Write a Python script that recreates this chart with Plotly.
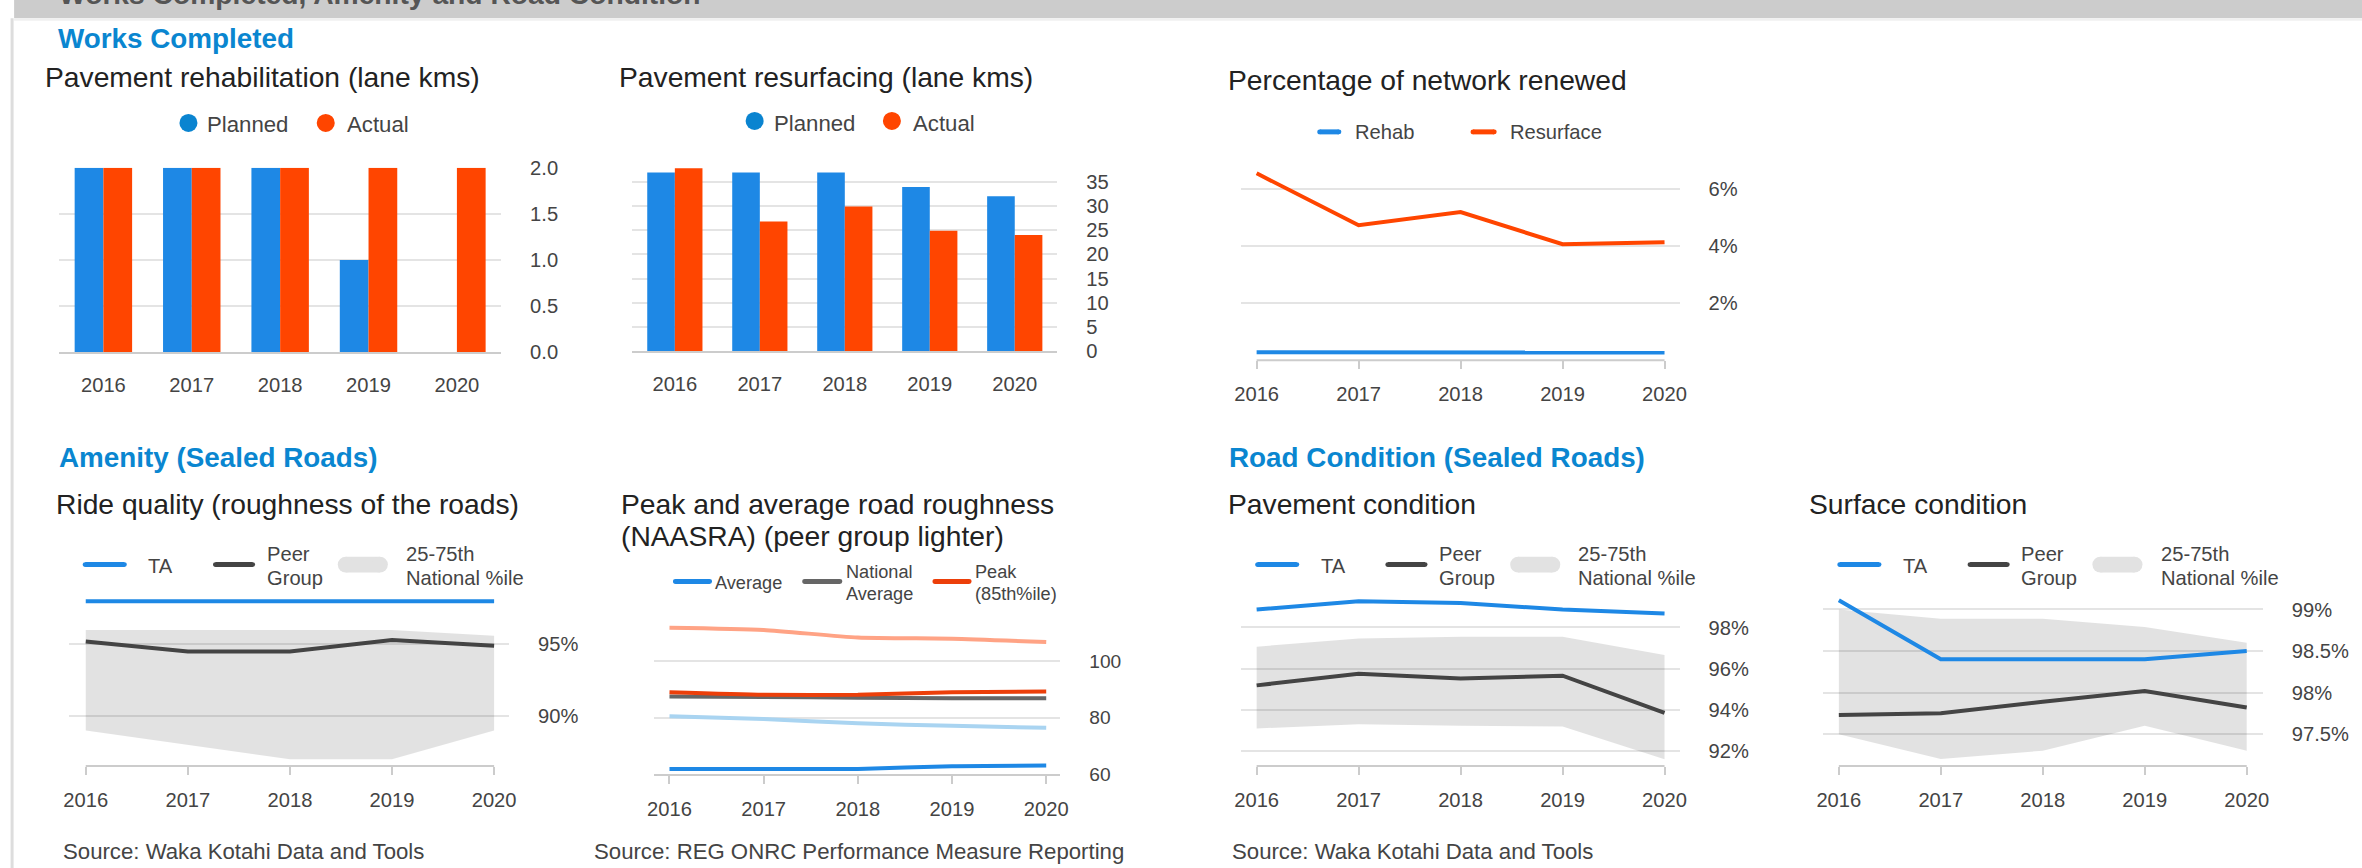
import plotly.graph_objects as go

# The photographed picture maps page pixels with a 10px frame and a slight resize:
# picture = S * (page + 10).  Positions below are given in picture pixels and converted.
PW, PH = 2362, 868
W, H = 2362, 868
SX, SY = 2362.0 / 2382.0, 868.0 / 888.0
OX, OY = 10.0, 10.0
FS = 1.0 / SX
FONT = "Arial, 'Liberation Sans', Helvetica, sans-serif"

# ---------------- data ----------------
years = [2016, 2017, 2018, 2019, 2020]
year_labels = ["2016", "2017", "2018", "2019", "2020"]

rehab_planned = [2.0, 2.0, 2.0, 1.0, 0.0]
rehab_actual = [2.0, 2.0, 2.0, 2.0, 2.0]

resurf_planned = [36.9, 36.9, 36.9, 33.9, 32.0]
resurf_actual = [37.8, 26.8, 29.9, 24.9, 24.0]

renew_rehab = [0.28, 0.28, 0.28, 0.26, 0.27]
renew_resurface = [6.56, 4.74, 5.20, 4.07, 4.14]

ride_ta = [98.0, 98.0, 98.0, 98.0, 98.0]
ride_peer = [95.2, 94.5, 94.5, 95.3, 94.9]
ride_p25 = [89.0, 88.0, 87.0, 87.0, 89.0]
ride_p75 = [96.0, 96.0, 96.0, 96.0, 95.6]

rough_avg = [61.8, 61.8, 61.8, 62.8, 63.0]
rough_nat_avg = [87.5, 87.3, 87.1, 86.9, 86.9]
rough_peak = [89.0, 88.1, 88.1, 89.0, 89.3]
rough_peer_avg = [80.5, 79.5, 78.0, 77.1, 76.4]
rough_peer_peak = [111.9, 111.1, 108.4, 108.0, 106.8]

pav_ta = [98.87, 99.27, 99.19, 98.87, 98.68]
pav_peer = [95.19, 95.76, 95.52, 95.66, 93.86]
pav_p25 = [93.10, 93.30, 93.23, 93.20, 91.60]
pav_p75 = [97.07, 97.47, 97.55, 97.55, 96.66]

surf_ta = [99.11, 98.40, 98.40, 98.40, 98.50]
surf_peer = [97.73, 97.75, 97.89, 98.02, 97.82]
surf_p25 = [97.50, 97.20, 97.30, 97.60, 97.30]
surf_p75 = [99.00, 98.89, 98.89, 98.79, 98.60]

ticks_rehab = [0, 0.5, 1.0, 1.5, 2.0]
ticktext_rehab = ["0.0", "0.5", "1.0", "1.5", "2.0"]
ticks_resurf = [0, 5, 10, 15, 20, 25, 30, 35]
ticktext_resurf = ["0", "5", "10", "15", "20", "25", "30", "35"]
ticks_renew = [2, 4, 6]
ticktext_renew = ["2%", "4%", "6%"]
ticks_ride = [90, 95]
ticktext_ride = ["90%", "95%"]
ticks_rough = [60, 80, 100]
ticktext_rough = ["60", "80", "100"]
ticks_pav = [92, 94, 96, 98]
ticktext_pav = ["92%", "94%", "96%", "98%"]
ticks_surf = [97.5, 98, 98.5, 99]
ticktext_surf = ["97.5%", "98%", "98.5%", "99%"]

# ---------------- style ----------------
BLUE = "#1E88E5"
DOT_BLUE = "#0A84D0"
ORANGE = "#FF4500"
PEER = "#444444"
BAND = "rgba(0,0,0,0.115)"
BAND_KEY = "#e2e2e2"
NAT = "#666666"
PEAK = "#EC3F0A"
PEER_PEAK = "#FFA385"
PEER_AVG = "#A9D4F1"
GRID = "#e4e4e4"
AXIS = "#cccccc"
TICK = "#444444"
TITLE = "#222222"
HEAD = "#0A86D0"
LEG = "#444444"


def fx(p):
    return (p / SX - OX) / W


def fy(p):
    return 1 - (p / SY - OY) / H


def fs(s):
    return round(s * FS, 2)


fig = go.Figure()

# ---------------- traces ----------------
fig.add_trace(go.Bar(x=year_labels, y=rehab_planned, marker=dict(color=BLUE, line=dict(width=0)),
                     name="Planned", xaxis="x", yaxis="y", showlegend=False))
fig.add_trace(go.Bar(x=year_labels, y=rehab_actual, marker=dict(color=ORANGE, line=dict(width=0)),
                     name="Actual", xaxis="x", yaxis="y", showlegend=False))
fig.add_trace(go.Bar(x=year_labels, y=resurf_planned, marker=dict(color=BLUE, line=dict(width=0)),
                     name="Planned", xaxis="x2", yaxis="y2", showlegend=False))
fig.add_trace(go.Bar(x=year_labels, y=resurf_actual, marker=dict(color=ORANGE, line=dict(width=0)),
                     name="Actual", xaxis="x2", yaxis="y2", showlegend=False))
fig.add_trace(go.Scatter(x=years, y=renew_rehab, mode="lines", line=dict(color=BLUE, width=4),
                         name="Rehab", xaxis="x3", yaxis="y3", showlegend=False))
fig.add_trace(go.Scatter(x=years, y=renew_resurface, mode="lines", line=dict(color=ORANGE, width=4),
                         name="Resurface", xaxis="x3", yaxis="y3", showlegend=False))


def band_chart(xa, ya, lo, hi, peer, ta):
    fig.add_trace(go.Scatter(x=years, y=lo, mode="lines", line=dict(width=0), xaxis=xa, yaxis=ya,
                             showlegend=False, hoverinfo="skip"))
    fig.add_trace(go.Scatter(x=years, y=hi, mode="lines", line=dict(width=0), fill="tonexty",
                             fillcolor=BAND, xaxis=xa, yaxis=ya, name="25-75th National %ile",
                             showlegend=False))
    fig.add_trace(go.Scatter(x=years, y=peer, mode="lines", line=dict(color=PEER, width=4),
                             xaxis=xa, yaxis=ya, name="Peer Group", showlegend=False))
    fig.add_trace(go.Scatter(x=years, y=ta, mode="lines", line=dict(color=BLUE, width=4),
                             xaxis=xa, yaxis=ya, name="TA", showlegend=False))


band_chart("x4", "y4", ride_p25, ride_p75, ride_peer, ride_ta)
for vals, col, nm in [(rough_peer_peak, PEER_PEAK, "Peer peak"), (rough_peer_avg, PEER_AVG, "Peer average"),
                      (rough_nat_avg, NAT, "National Average"), (rough_peak, PEAK, "Peak (85th%ile)"),
                      (rough_avg, BLUE, "Average")]:
    fig.add_trace(go.Scatter(x=years, y=vals, mode="lines",
                             line=dict(color=col, width=4, shape="spline", smoothing=0.6),
                             xaxis="x5", yaxis="y5", name=nm, showlegend=False))
band_chart("x6", "y6", pav_p25, pav_p75, pav_peer, pav_ta)
band_chart("x7", "y7", surf_p25, surf_p75, surf_peer, surf_ta)

# ---------------- axes ----------------
lay = {}


def cat_x(name, anchor, x0, x1):
    lay[name] = dict(domain=[fx(x0), fx(x1)], anchor=anchor, type="category", showgrid=False,
                     zeroline=False, showline=True, linecolor=AXIS, linewidth=2, ticks="",
                     tickfont=dict(family=FONT, size=fs(20), color=TICK), ticklabelstandoff=14,
                     fixedrange=True)


def num_x(name, anchor, x0, x1, rng, line=False):
    lay[name] = dict(domain=[fx(x0), fx(x1)], anchor=anchor, type="linear", range=rng,
                     tickvals=years, ticktext=year_labels, showgrid=False, zeroline=False,
                     showline=line, linecolor=AXIS, linewidth=2,
                     ticks="outside", ticklen=8, tickwidth=2, tickcolor=AXIS,
                     tickfont=dict(family=FONT, size=fs(20), color=TICK), ticklabelstandoff=8,
                     fixedrange=True)


def num_y(name, anchor, top, bottom, rng, tickvals, ticktext, size=20):
    lay[name] = dict(domain=[fy(bottom), fy(top)], anchor=anchor, side="right", range=rng,
                     tickmode="array", tickvals=tickvals, ticktext=ticktext,
                     showgrid=True, gridcolor=GRID, gridwidth=2, zeroline=False,
                     showline=False, ticks="",
                     tickfont=dict(family=FONT, size=fs(size), color=TICK), ticklabelstandoff=28,
                     fixedrange=True)


cat_x("xaxis", "y", 62, 503)
num_y("yaxis", "x", 167, 352, [0, 2.0], ticks_rehab, ticktext_rehab)
cat_x("xaxis2", "y2", 634, 1058)
num_y("yaxis2", "x2", 166, 351, [0, 38.1], ticks_resurf, ticktext_resurf)
num_x("xaxis3", "y3", 1241, 1679, [2015.843, 2020.147])
num_y("yaxis3", "x3", 160, 360, [0, 7.0], ticks_renew, ticktext_renew)
num_x("xaxis4", "y4", 72, 511, [2015.838, 2020.147])
num_y("yaxis4", "x4", 595, 767, [86.53, 98.47], ticks_ride, ticktext_ride)
num_x("xaxis5", "y5", 656, 1061, [2015.840, 2020.149], line=True)
num_y("yaxis5", "x5", 615, 775, [60, 116.6], ticks_rough, ticktext_rough, size=19)
num_x("xaxis6", "y6", 1241, 1679, [2015.843, 2020.147])
num_y("yaxis6", "x6", 595, 767, [91.275, 99.6], ticks_pav, ticktext_pav)
num_x("xaxis7", "y7", 1822, 2261, [2015.843, 2020.157])
num_y("yaxis7", "x7", 595, 767, [97.116, 99.18], ticks_surf, ticktext_surf)

shapes = []
annotations = []

# baselines spanning the data years only
for xa, ya in [("x3", "y3"), ("x4", "y4"), ("x6", "y6"), ("x7", "y7")]:
    shapes.append(dict(type="line", xref=xa, yref=ya + " domain", x0=years[0], x1=years[-1], y0=0, y1=0,
                       line=dict(color=AXIS, width=2), layer="above"))

# ---------------- page frame ----------------
shapes.append(dict(type="rect", xref="paper", yref="paper", x0=fx(17), x1=fx(PW + 5), y0=fy(17), y1=fy(-5),
                   fillcolor="#cccccc", line=dict(width=0), layer="below"))
shapes.append(dict(type="line", xref="paper", yref="paper", x0=fx(17), x1=fx(PW + 5), y0=fy(18.5),
                   y1=fy(18.5), line=dict(color="#f0f0f0", width=2), layer="below"))
shapes.append(dict(type="line", xref="paper", yref="paper", x0=fx(15), x1=fx(15), y0=fy(PH + 5), y1=fy(17),
                   line=dict(color="#dddddd", width=3), layer="below"))
shapes.append(dict(type="line", xref="paper", yref="paper", x0=fx(1), x1=fx(1), y0=fy(60), y1=fy(-5),
                   line=dict(color="#e8e8e8", width=2), layer="below"))


def text(x, y, s, size, color, bold=False, anchor="left", yanchor="middle"):
    annotations.append(dict(x=fx(x), y=fy(y), xref="paper", yref="paper",
                            text=("<b>%s</b>" % s) if bold else s, showarrow=False,
                            xanchor=anchor, yanchor=yanchor, align="left",
                            font=dict(family=FONT, size=fs(size), color=color)))


# banner title (mostly scrolled off the top)
text(60, 11, "Works Completed, Amenity and Road Condition", 28, "#555555", bold=True, yanchor="bottom")

# section headings
text(59, 37, "Works Completed", 27.6, HEAD, bold=True)
text(60, 458, "Amenity (Sealed Roads)", 27.6, HEAD, bold=True)
text(1227, 458, "Road Condition (Sealed Roads)", 27.6, HEAD, bold=True)

# chart titles
text(46, 76, "Pavement rehabilitation (lane kms)", 28, TITLE)
text(619, 76, "Pavement resurfacing (lane kms)", 28, TITLE)
text(1226, 79, "Percentage of network renewed", 28, TITLE)
text(57, 504, "Ride quality (roughness of the roads)", 28, TITLE)
text(621, 504, "Peak and average road roughness", 28, TITLE)
text(621, 536, "(NAASRA) (peer group lighter)", 28, TITLE)
text(1226, 504, "Pavement condition", 28, TITLE)
text(1806, 504, "Surface condition", 28, TITLE)

# sources
text(64, 853, "Source: Waka Kotahi Data and Tools", 22, "#444444")
text(594, 853, "Source: REG ONRC Performance Measure Reporting", 22, "#444444")
text(1230, 853, "Source: Waka Kotahi Data and Tools", 22, "#444444")


# ---------------- legend keys ----------------
def dot(cx, cy, r, color):
    shapes.append(dict(type="circle", xref="paper", yref="paper", x0=fx(cx - r), x1=fx(cx + r),
                       y0=fy(cy + r), y1=fy(cy - r), fillcolor=color, line=dict(width=0)))


def seg(x0, x1, y, color, width=5):
    shapes.append(dict(type="line", xref="paper", yref="paper", x0=fx(x0), x1=fx(x1), y0=fy(y), y1=fy(y),
                       line=dict(color=color, width=width)))
    dot(x0, y, width / 2.0, color)
    dot(x1, y, width / 2.0, color)


def pill(x0, x1, y, h, color):
    r = h / 2.0
    shapes.append(dict(type="rect", xref="paper", yref="paper", x0=fx(x0 + r), x1=fx(x1 - r),
                       y0=fy(y + r), y1=fy(y - r), fillcolor=color, line=dict(width=0)))
    dot(x0 + r, y, r, color)
    dot(x1 - r, y, r, color)


dot(191, 122, 9, DOT_BLUE); text(208, 124, "Planned", 22, LEG)
dot(328, 122, 9, ORANGE); text(347, 124, "Actual", 22, LEG)
dot(756, 120, 9, DOT_BLUE); text(773, 123, "Planned", 22, LEG)
dot(893, 120, 9, ORANGE); text(912, 123, "Actual", 22, LEG)

seg(1320, 1339, 131, BLUE); text(1353, 131, "Rehab", 20, LEG)
seg(1473, 1494, 131, ORANGE); text(1508, 131, "Resurface", 20, LEG)


def band_legend(x):
    seg(x, x + 39, 565, BLUE)
    text(x + 61, 566, "TA", 20, LEG)
    seg(x + 130, x + 167, 565, PEER)
    text(x + 179, 554, "Peer", 20, LEG)
    text(x + 179, 578, "Group", 20, LEG)
    pill(x + 252, x + 302, 565, 16, BAND_KEY)
    text(x + 318, 554, "25-75th", 20, LEG)
    text(x + 318, 578, "National %ile", 20, LEG)


band_legend(88)
band_legend(1258)
band_legend(1839)

seg(677, 711, 582, BLUE); text(714, 583, "Average", 18, LEG)
seg(806, 841, 582, NAT); text(845, 572, "National", 18, LEG); text(845, 594, "Average", 18, LEG)
seg(936, 970, 582, PEAK); text(974, 572, "Peak", 18, LEG); text(974, 594, "(85th%ile)", 18, LEG)

fig.update_layout(
    width=W, height=H, margin=dict(l=0, r=0, t=0, b=0),
    paper_bgcolor="white", plot_bgcolor="rgba(0,0,0,0)",
    barmode="group", bargap=0.35, bargroupgap=0.0,
    showlegend=False, font=dict(family=FONT, color=TICK),
    shapes=shapes, annotations=annotations, **lay
)

fig.write_html(
    "out.html",
    config={"responsive": False, "displayModeBar": False},
    post_script="document.body.style.margin='0';document.body.style.padding='0';"
                "document.body.style.overflow='hidden';",
)
